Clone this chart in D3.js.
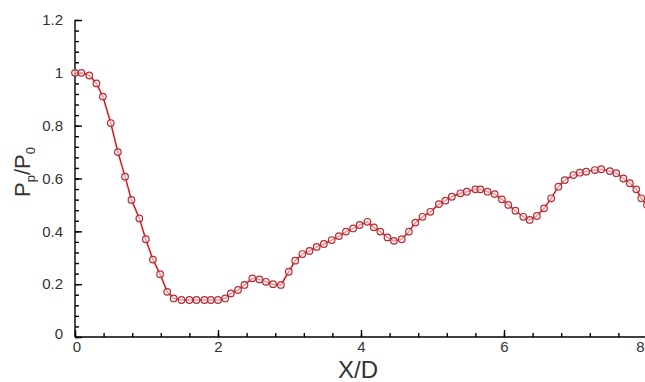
<!DOCTYPE html>
<html>
<head>
<meta charset="utf-8">
<script src="https://cdn.jsdelivr.net/npm/d3@7"></script>
<style>
  body { margin: 0; background: #fff; }
  svg { display: block; font-family: 'Liberation Sans', Arial, sans-serif; }
  .axis path, .axis line { stroke: #000; stroke-width: 1.4; }
  .axis text { fill: #333; font-size: 15px; }
</style>
</head>
<body>
<div id="chart"></div>
<script>
// X/D positions of the sampled points
const xVals = [0.00, 0.09, 0.20, 0.30, 0.39, 0.50, 0.60, 0.70, 0.79, 0.90,
  0.99, 1.09, 1.19, 1.29, 1.38, 1.49, 1.60, 1.70, 1.81, 1.90,
  2.00, 2.10, 2.18, 2.28, 2.37, 2.48, 2.58, 2.67, 2.77, 2.88,
  2.99, 3.08, 3.18, 3.28, 3.38, 3.48, 3.59, 3.69, 3.79, 3.89,
  3.98, 4.09, 4.18, 4.27, 4.37, 4.46, 4.57, 4.67, 4.76, 4.86,
  4.97, 5.09, 5.18, 5.27, 5.39, 5.48, 5.60, 5.67, 5.77, 5.87,
  5.97, 6.06, 6.16, 6.27, 6.36, 6.46, 6.56, 6.66, 6.76, 6.85,
  6.97, 7.06, 7.15, 7.27, 7.36, 7.48, 7.57, 7.67, 7.76, 7.85,
  7.92, 8.00];
// Pp/P0 values
const yVals = [1.000, 1.000, 0.990, 0.960, 0.910, 0.810, 0.700, 0.607, 0.519, 0.449,
  0.370, 0.293, 0.238, 0.171, 0.146, 0.140, 0.140, 0.140, 0.140, 0.140,
  0.140, 0.146, 0.165, 0.178, 0.197, 0.222, 0.218, 0.209, 0.200, 0.197,
  0.247, 0.289, 0.314, 0.326, 0.341, 0.352, 0.367, 0.382, 0.399, 0.411,
  0.424, 0.436, 0.415, 0.399, 0.377, 0.364, 0.370, 0.399, 0.433, 0.455,
  0.474, 0.503, 0.516, 0.531, 0.544, 0.550, 0.559, 0.559, 0.550, 0.541,
  0.521, 0.500, 0.478, 0.455, 0.443, 0.458, 0.487, 0.525, 0.569, 0.594,
  0.613, 0.622, 0.626, 0.632, 0.635, 0.628, 0.620, 0.600, 0.582, 0.559,
  0.525, 0.500];
const xTicks = [0, 2, 4, 6, 8];
const yTicks = [0, 0.2, 0.4, 0.6, 0.8, 1, 1.2];

const W = 645, H = 382;
const margin = { top: 20, right: -2, bottom: 45, left: 75 };
const width = W - margin.left - margin.right;
const height = H - margin.top - margin.bottom;

const svg = d3.select('#chart').append('svg')
  .attr('width', W)
  .attr('height', H)
  .append('g')
  .attr('transform', 'translate(' + margin.left + ',' + margin.top + ')');

const x = d3.scaleLinear().domain([0, 8]).range([0, width]);
const y = d3.scaleLinear().domain([0, 1.2]).range([height, 0]);

// minor ticks
svg.append('g')
  .attr('class', 'axis')
  .attr('transform', 'translate(0,' + height + ')')
  .call(d3.axisTop(x).tickValues(d3.range(0, 8.01, 0.4)).tickSize(4).tickFormat(''))
  .select('.domain').remove();
svg.append('g')
  .attr('class', 'axis')
  .call(d3.axisRight(y).tickValues(d3.range(0, 1.201, 0.04)).tickSize(4).tickFormat(''))
  .select('.domain').remove();

// major ticks + labels
const xAxis = svg.append('g')
  .attr('class', 'axis')
  .attr('transform', 'translate(0,' + height + ')')
  .call(d3.axisBottom(x).tickValues(xTicks).tickSize(0).tickPadding(4).tickFormat(d3.format('')));
xAxis.selectAll('.tick line').attr('y2', -7);
xAxis.select('.domain').attr('d', 'M0,0H' + width);
// last label sits at the window edge, keep it inside
xAxis.selectAll('.tick').filter(d => d === 8).select('text').attr('text-anchor', 'end').attr('dx', -3);

const yAxis = svg.append('g')
  .attr('class', 'axis')
  .call(d3.axisLeft(y).tickValues(yTicks).tickSize(0).tickPadding(12).tickFormat(d3.format('')));
yAxis.selectAll('.tick line').attr('x2', 7);
yAxis.select('.domain').attr('d', 'M0,' + height + 'V0');
yAxis.selectAll('.tick').filter(d => d === 0).select('text').attr('dy', '0.1em');
xAxis.selectAll('.tick').filter(d => d === 0).select('text').attr('dx', '0.1em');

const data = xVals.map((d, i) => ({ x: d, y: yVals[i] }));

const line = d3.line()
  .x(d => x(d.x))
  .y(d => y(d.y));

svg.append('path')
  .datum(data)
  .attr('d', line)
  .attr('fill', 'none')
  .attr('stroke', '#e0141e')
  .attr('stroke-width', 1.5);

svg.selectAll('circle')
  .data(data)
  .enter().append('circle')
  .attr('cx', d => x(d.x))
  .attr('cy', d => y(d.y))
  .attr('r', 3.3)
  .attr('fill', 'rgba(255,235,235,0.6)')
  .attr('stroke', '#b03038')
  .attr('stroke-width', 1.2);

// axis titles
const root = d3.select('#chart svg');
root.append('text')
  .attr('x', 358)
  .attr('y', 378)
  .attr('text-anchor', 'middle')
  .attr('font-size', 24)
  .attr('fill', '#333')
  .text('X/D');

const yl = root.append('text')
  .attr('transform', 'translate(30,172) rotate(-90)')
  .attr('text-anchor', 'middle')
  .attr('font-size', 22)
  .attr('fill', '#333');
yl.append('tspan').text('P');
yl.append('tspan').attr('font-size', 13).attr('dy', 5).text('p');
yl.append('tspan').attr('dy', -5).text('/P');
yl.append('tspan').attr('font-size', 13).attr('dy', 5).text('0');
</script>
</body>
</html>
